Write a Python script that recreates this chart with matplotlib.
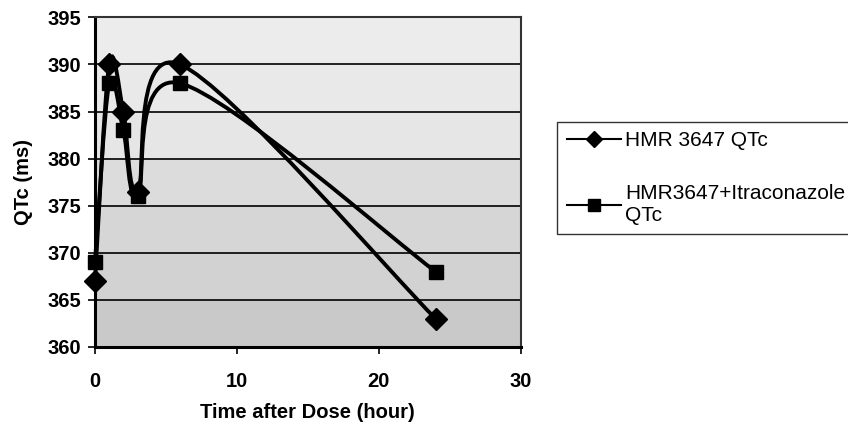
import matplotlib
matplotlib.use("Agg")
import matplotlib.pyplot as plt
from matplotlib.path import Path
from matplotlib.patches import PathPatch
from matplotlib.lines import Line2D

plt.rcParams['font.family'] = ['Liberation Sans', 'DejaVu Sans']

hours = [0, 1, 2, 3, 6, 24]
qtc_hmr = [367, 390, 385, 376.5, 390, 363]
qtc_itra = [369, 388, 383, 376, 388, 368]

series_labels = ['HMR 3647 QTc', 'HMR3647+Itraconazole\nQTc']
series_markers = ['D', 's']

x_ticks = [0, 10, 20, 30]
y_ticks = [360, 365, 370, 375, 380, 385, 390, 395]

# plot-area shading per 5 ms band, darker towards the bottom
band_grays = ['#c9c9c9', '#d2d2d2', '#d6d6d6', '#dcdcdc', '#e6e6e6', '#e9e9e9', '#ececec']


def smooth_path(xs, ys):
    # spreadsheet-style smoothed line: cubic Bezier through each point
    pts = list(zip(xs, ys))
    n = len(pts)
    verts = [pts[0]]
    codes = [Path.MOVETO]
    for i in range(n - 1):
        p_prev = pts[max(i - 1, 0)]
        p0 = pts[i]
        p1 = pts[i + 1]
        p_next = pts[min(i + 2, n - 1)]
        c1 = (p0[0] + (p1[0] - p_prev[0]) / 6, p0[1] + (p1[1] - p_prev[1]) / 6)
        c2 = (p1[0] - (p_next[0] - p0[0]) / 6, p1[1] - (p_next[1] - p0[1]) / 6)
        verts += [c1, c2, p1]
        codes += [Path.CURVE4] * 3
    return Path(verts, codes)


fig = plt.figure(figsize=(8.48, 4.24), dpi=100)
ax = fig.add_axes([0.112, 0.182, 0.502, 0.777])

for k, g in enumerate(band_grays):
    ax.axhspan(y_ticks[k], y_ticks[k + 1], color=g, lw=0, zorder=0)

for y in y_ticks[1:-1]:
    ax.axhline(y, color='black', lw=1.2, zorder=1)

for ys, m in zip([qtc_hmr, qtc_itra], series_markers):
    ax.add_patch(PathPatch(smooth_path(hours, ys), facecolor='none',
                           edgecolor='black', lw=2.8, zorder=3, clip_on=False))
    ax.plot(hours, ys, linestyle='none', marker=m, ms=11 if m == 'D' else 10,
            color='black', zorder=4, clip_on=False)

ax.set_xlim(0, 30)
ax.set_ylim(360, 395)
ax.set_xticks(x_ticks)
ax.set_yticks(y_ticks)
ax.tick_params(axis='both', direction='out', length=5, width=1.2,
               labelsize=14.5, pad=5)
for lbl in ax.get_xticklabels() + ax.get_yticklabels():
    lbl.set_fontweight('bold')
ax.tick_params(axis='x', pad=13)

for side in ['left', 'bottom']:
    ax.spines[side].set_linewidth(2.2)
for side in ['top', 'right']:
    ax.spines[side].set_linewidth(1.5)
    ax.spines[side].set_color('#333333')

ax.set_xlabel('Time after Dose (hour)', fontsize=14.5, fontweight='bold', labelpad=9)
ax.set_ylabel('QTc (ms)', fontsize=14.5, fontweight='bold', labelpad=10)

# legend box runs past the right edge of the figure
handles = [Line2D([0], [0], color='black', lw=1.5, marker=m, ms=8)
           for m in series_markers]
leg = fig.legend(handles, series_labels, loc='upper left', mode='expand',
                 bbox_to_anchor=(0.657, 0.3, 0.4, 0.412), fontsize=15,
                 frameon=True, fancybox=False, edgecolor='black',
                 handlelength=2.6, handletextpad=0.2, labelspacing=1.6,
                 borderpad=0.45, borderaxespad=0)
leg.get_frame().set_linewidth(1.0)

fig.savefig('out.png')
